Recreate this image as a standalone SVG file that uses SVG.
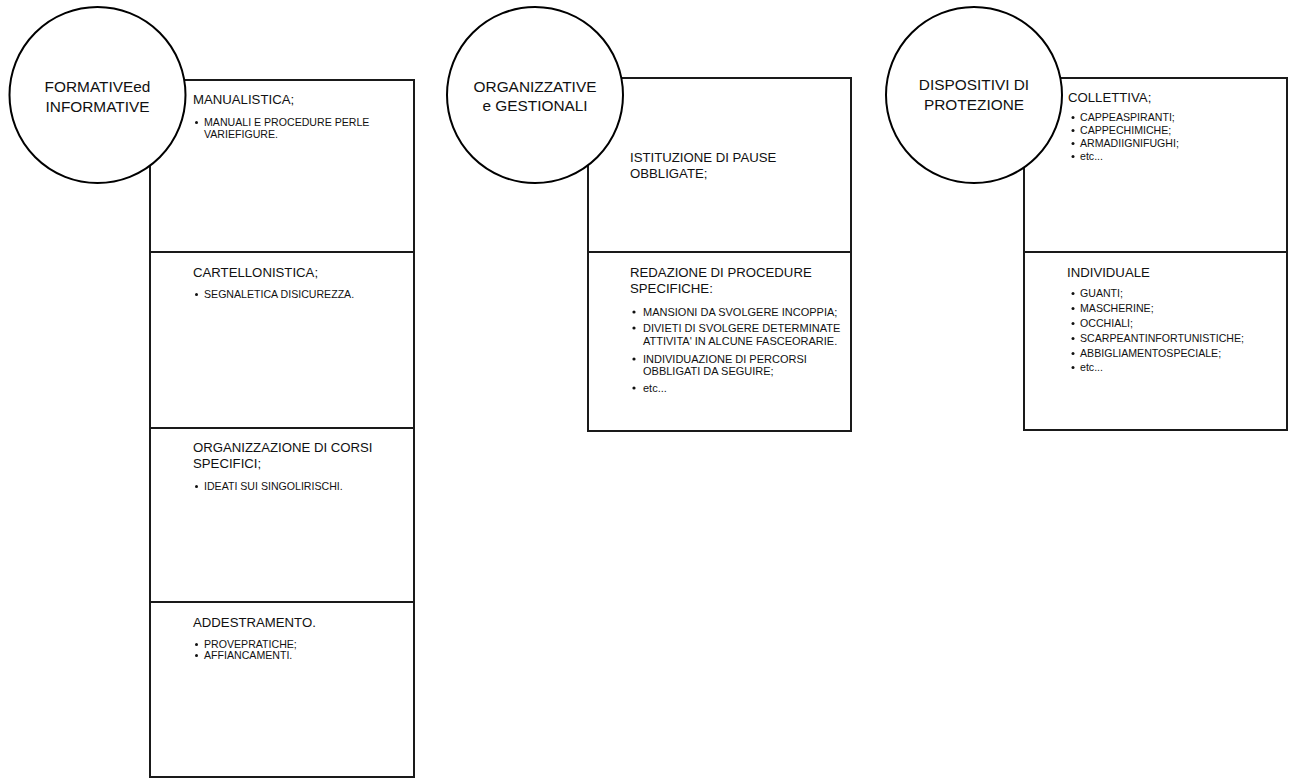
<svg xmlns="http://www.w3.org/2000/svg" width="1293" height="778" viewBox="0 0 1293 778">
<style>
.box{fill:#fff;stroke:#1a1a1a;stroke-width:2}
.circ{fill:#fff;stroke:#000;stroke-width:2}
text{font-family:"Liberation Sans",Arial,sans-serif;fill:#111}
.ct{font-size:15.4px;text-anchor:middle}
.h{font-size:13.2px}
.b{font-size:10.6px}
.b2{font-size:11px}
.dot{fill:#111}
</style>
<rect width="1293" height="778" fill="#fff"/>
<g id="connectors"></g>

<!-- Column 1 -->
<g id="manualistica">
<rect class="box" x="150" y="80" width="264" height="172"/>
<text class="h" x="193" y="104">MANUALISTICA;</text>
<circle class="dot" cx="196.5" cy="122.5" r="1.5"/>
<text class="b" x="204" y="126">MANUALI E PROCEDURE PERLE</text>
<text class="b" x="204" y="138">VARIEFIGURE.</text>
</g>
<g id="cartellonistica">
<rect class="box" x="150" y="252" width="264" height="176"/>
<text class="h" x="193" y="277">CARTELLONISTICA;</text>
<circle class="dot" cx="196.5" cy="294.5" r="1.5"/>
<text class="b" x="204" y="298">SEGNALETICA DISICUREZZA.</text>
</g>
<g id="corsi">
<rect class="box" x="150" y="428" width="264" height="174"/>
<text class="h" x="193" y="452">ORGANIZZAZIONE DI CORSI</text>
<text class="h" x="193" y="468">SPECIFICI;</text>
<circle class="dot" cx="196.5" cy="486.5" r="1.5"/>
<text class="b" x="204" y="490">IDEATI SUI SINGOLIRISCHI.</text>
</g>
<g id="addestramento">
<rect class="box" x="150" y="602" width="264" height="175"/>
<text class="h" x="193" y="627">ADDESTRAMENTO.</text>
<circle class="dot" cx="196.5" cy="644.5" r="1.5"/>
<text class="b" x="204" y="648">PROVEPRATICHE;</text>
<circle class="dot" cx="196.5" cy="655.5" r="1.5"/>
<text class="b" x="204" y="659">AFFIANCAMENTI.</text>
</g>
<g id="formative">
<circle class="circ" cx="97.5" cy="95" r="88"/>
<text class="ct" x="97.5" y="92">FORMATIVEed</text>
<text class="ct" x="97.5" y="112">INFORMATIVE</text>
</g>

<!-- Column 2 -->
<g id="pause">
<rect class="box" x="588" y="78" width="263" height="174"/>
<text class="h" x="630" y="162">ISTITUZIONE DI PAUSE</text>
<text class="h" x="630" y="178">OBBLIGATE;</text>
</g>
<g id="procedure">
<rect class="box" x="588" y="252" width="263" height="179"/>
<text class="h" x="630" y="277">REDAZIONE DI PROCEDURE</text>
<text class="h" x="630" y="293">SPECIFICHE:</text>
<circle class="dot" cx="634" cy="312" r="1.6"/>
<text class="b2" x="643" y="316">MANSIONI DA SVOLGERE INCOPPIA;</text>
<circle class="dot" cx="634" cy="328" r="1.6"/>
<text class="b2" x="643" y="332">DIVIETI DI SVOLGERE DETERMINATE</text>
<text class="b2" x="643" y="345">ATTIVITA' IN ALCUNE FASCEORARIE.</text>
<circle class="dot" cx="634" cy="359" r="1.6"/>
<text class="b2" x="643" y="363">INDIVIDUAZIONE DI PERCORSI</text>
<text class="b2" x="643" y="375">OBBLIGATI DA SEGUIRE;</text>
<circle class="dot" cx="634" cy="388" r="1.6"/>
<text class="b2" x="643" y="392">etc...</text>
</g>
<g id="organizzative">
<circle class="circ" cx="535" cy="95" r="88"/>
<text class="ct" x="535" y="92">ORGANIZZATIVE</text>
<text class="ct" x="535" y="111">e GESTIONALI</text>
</g>

<!-- Column 3 -->
<g id="collettiva">
<rect class="box" x="1024" y="78" width="263" height="174"/>
<text class="h" x="1068" y="102">COLLETTIVA;</text>
<circle class="dot" cx="1073" cy="117.5" r="1.5"/>
<text class="b" x="1080" y="121">CAPPEASPIRANTI;</text>
<circle class="dot" cx="1073" cy="130.5" r="1.5"/>
<text class="b" x="1080" y="134">CAPPECHIMICHE;</text>
<circle class="dot" cx="1073" cy="143.5" r="1.5"/>
<text class="b" x="1080" y="147">ARMADIIGNIFUGHI;</text>
<circle class="dot" cx="1073" cy="156.5" r="1.5"/>
<text class="b" x="1080" y="160">etc...</text>
</g>
<g id="individuale">
<rect class="box" x="1024" y="252" width="263" height="178"/>
<text class="h" x="1067" y="277">INDIVIDUALE</text>
<circle class="dot" cx="1073" cy="293.5" r="1.5"/>
<text class="b" x="1080" y="297">GUANTI;</text>
<circle class="dot" cx="1073" cy="308.5" r="1.5"/>
<text class="b" x="1080" y="312">MASCHERINE;</text>
<circle class="dot" cx="1073" cy="323.5" r="1.5"/>
<text class="b" x="1080" y="327">OCCHIALI;</text>
<circle class="dot" cx="1073" cy="338.5" r="1.5"/>
<text class="b" x="1080" y="342">SCARPEANTINFORTUNISTICHE;</text>
<circle class="dot" cx="1073" cy="353.5" r="1.5"/>
<text class="b" x="1080" y="357">ABBIGLIAMENTOSPECIALE;</text>
<circle class="dot" cx="1073" cy="367.5" r="1.5"/>
<text class="b" x="1080" y="371">etc...</text>
</g>
<g id="dispositivi">
<circle class="circ" cx="974" cy="95" r="88"/>
<text class="ct" x="974" y="90">DISPOSITIVI DI</text>
<text class="ct" x="974" y="110">PROTEZIONE</text>
</g>
</svg>
